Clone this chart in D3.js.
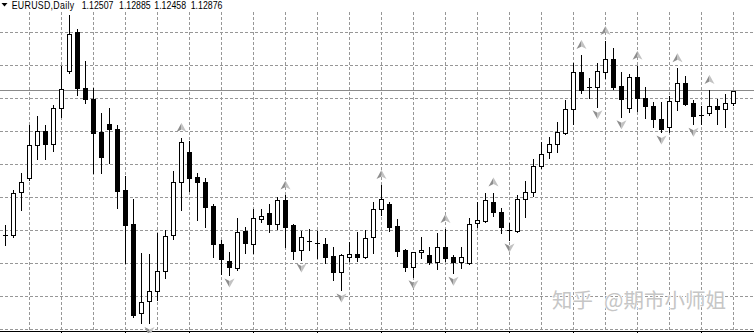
<!DOCTYPE html>
<html><head><meta charset="utf-8">
<script src="https://cdn.jsdelivr.net/npm/d3@7"></script>
<style>html,body{margin:0;padding:0;background:#fff;overflow:hidden}</style>
</head><body><svg id="c" width="754" height="333"></svg>
<script>
const symbol = "EURUSD,Daily";
const opens = [1.08550,1.08550,1.09831,1.10269,1.11250,1.11670,1.11271,1.12351,1.13470,1.14631,
1.12960,1.12621,1.11631,1.11871,1.11721,1.09900,1.08871,1.06201,1.06570,1.06870,
1.07470,1.08550,1.10131,1.11031,1.10299,1.10131,1.09420,1.08271,1.07779,1.07569,
1.08679,1.08271,1.09039,1.09210,1.08871,1.09600,1.08850,1.08100,1.08361,1.08319,
1.08280,1.07920,1.07431,1.07899,1.07980,1.07881,1.08481,1.09321,1.09480,1.08820,
1.08100,1.07599,1.08031,1.07950,1.07731,1.08181,1.07881,1.07731,1.07719,1.08901,
1.08979,1.09549,1.09249,1.08700,1.08679,1.09621,1.09849,1.10620,1.11049,1.11271,
1.11619,1.12321,1.13431,1.12999,1.12981,1.13449,1.13830,1.13020,1.12351,1.13281,
1.12651,1.12420,1.12021,1.11799,1.12579,1.13101,1.12501,1.12150,1.12201,1.12420,
1.12330,1.12507];
const highs = [1.08850,1.09900,1.10419,1.11850,1.12120,1.11850,1.12450,1.13620,1.15150,1.14721,
1.13770,1.12960,1.12201,1.12351,1.11850,1.10320,1.09621,1.08001,1.07971,1.08619,
1.08700,1.10470,1.11460,1.11370,1.10419,1.10269,1.09480,1.08400,1.08049,1.09051,
1.08790,1.09321,1.09321,1.09480,1.09699,1.09735,1.08880,1.08670,1.08730,1.08670,
1.08451,1.08181,1.07980,1.08331,1.08649,1.08700,1.09549,1.10050,1.09531,1.09021,
1.08130,1.08040,1.08481,1.08199,1.08601,1.08730,1.07950,1.08199,1.09051,1.09549,
1.09801,1.09825,1.09351,1.08901,1.09750,1.10170,1.10821,1.11349,1.11499,1.11931,
1.12600,1.13701,1.13950,1.13251,1.13701,1.14370,1.14151,1.13449,1.13371,1.13629,
1.12981,1.12531,1.12531,1.12729,1.13551,1.13329,1.12600,1.12420,1.12900,1.12630,
1.12780,1.12885];
const lows = [1.08250,1.08481,1.09300,1.10200,1.10830,1.10830,1.11079,1.12099,1.13395,1.12750,
1.12510,1.10399,1.10399,1.10719,1.09351,1.07701,1.06099,1.05919,1.05895,1.06600,
1.07251,1.08421,1.09300,1.09870,1.09000,1.08799,1.07899,1.07371,1.07350,1.07500,
1.08019,1.08001,1.08949,1.08649,1.08730,1.08199,1.07821,1.07800,1.08100,1.07851,
1.07701,1.07200,1.06900,1.07779,1.07779,1.07860,1.08019,1.09150,1.08679,1.07920,
1.07479,1.07299,1.07851,1.07671,1.07521,1.07779,1.07401,1.07551,1.07671,1.08781,
1.08949,1.09129,1.08601,1.08400,1.08649,1.09099,1.09720,1.10551,1.10869,1.11049,
1.11571,1.11871,1.12801,1.12669,1.12399,1.13251,1.12921,1.12099,1.12231,1.12270,
1.12051,1.11799,1.11640,1.11649,1.12300,1.12450,1.11871,1.11895,1.12150,1.11871,
1.11799,1.12458];
const closes = [1.08550,1.09801,1.10131,1.11250,1.11670,1.11271,1.12360,1.12921,1.14580,1.12951,
1.12621,1.11601,1.10899,1.11721,1.09879,1.08850,1.06150,1.06531,1.06879,1.07479,
1.08529,1.10131,1.11349,1.10269,1.10131,1.09399,1.08271,1.07821,1.07599,1.08649,
1.08301,1.09051,1.09111,1.08871,1.09600,1.08799,1.08079,1.08481,1.08361,1.08319,
1.07899,1.07431,1.07950,1.07971,1.07881,1.08451,1.09321,1.09621,1.08799,1.08079,
1.07599,1.08031,1.08100,1.07731,1.08181,1.07869,1.07731,1.07881,1.08880,1.08991,
1.09600,1.09249,1.08781,1.08700,1.09621,1.09849,1.10629,1.10971,1.11271,1.11631,
1.12321,1.13431,1.12900,1.12999,1.13470,1.13830,1.12999,1.12621,1.13281,1.12651,
1.12429,1.12021,1.11721,1.12579,1.13101,1.12480,1.12129,1.12150,1.12420,1.12321,
1.12501,1.12876];
const upFractals = [22,35,47,55,61,72,75,79,84,88];
const downFractals = [18,28,37,42,51,56,63,74,77,82,86];
const gridPrices = [1.14628,1.13641,1.12654,1.11667,1.10680,1.09693,1.08706,1.07719,1.06732,1.05745];
const watermarkParts = ["知乎", "@期市小师姐"];

const W = 754, H = 333;
const svg = d3.select("#c");
const n = opens.length;
const x = d3.scaleLinear().domain([0, n - 1]).range([5, 733]);
const y = d3.scaleLinear().domain([1.0561, 1.1560]).range([333, 0]);
const cx = i => Math.round(x(i));
const cy = v => Math.round(y(v));

const gridColor = "#979797";
svg.append("g").selectAll("line").data(gridPrices).join("line")
  .attr("x1", 0).attr("x2", W)
  .attr("y1", d => cy(d) + 0.5).attr("y2", d => cy(d) + 0.5)
  .attr("stroke", gridColor).attr("stroke-dasharray", "3,2").attr("shape-rendering", "crispEdges");
svg.append("g").selectAll("line").data(d3.range(3, n, 4)).join("line")
  .attr("x1", d => cx(d) + 0.5).attr("x2", d => cx(d) + 0.5)
  .attr("y1", 12).attr("y2", 331)
  .attr("stroke", gridColor).attr("stroke-dasharray", "3,2").attr("shape-rendering", "crispEdges");

const last = n - 1;
svg.append("line").attr("x1", 0).attr("x2", W)
  .attr("y1", Math.floor(y(closes[last])) + 0.5).attr("y2", Math.floor(y(closes[last])) + 0.5)
  .attr("stroke", "#8a8a8a").attr("shape-rendering", "crispEdges");

svg.append("line").attr("x1", 0).attr("x2", W).attr("y1", 331.5).attr("y2", 331.5)
  .attr("stroke", "#000").attr("shape-rendering", "crispEdges");
svg.append("g").selectAll("line").data(d3.range(7, n, 8)).join("line")
  .attr("x1", d => cx(d) + 0.5).attr("x2", d => cx(d) + 0.5)
  .attr("y1", 331).attr("y2", 333).attr("stroke", "#000").attr("shape-rendering", "crispEdges");

const idx = d3.range(n);
const cg = svg.append("g").attr("shape-rendering", "crispEdges");
cg.selectAll("line.wick").data(idx).join("line").attr("class", "wick")
  .attr("x1", i => cx(i) + 0.5).attr("x2", i => cx(i) + 0.5)
  .attr("y1", i => cy(highs[i])).attr("y2", i => cy(lows[i]) + 1)
  .attr("stroke", "#000");
cg.selectAll("rect.bear").data(idx.filter(i => closes[i] < opens[i])).join("rect").attr("class", "bear")
  .attr("x", i => cx(i) - 2).attr("width", 5)
  .attr("y", i => cy(opens[i]))
  .attr("height", i => Math.max(1, cy(closes[i]) - cy(opens[i]) + 1))
  .attr("fill", "#000");
cg.selectAll("rect.bull").data(idx.filter(i => closes[i] > opens[i])).join("rect").attr("class", "bull")
  .attr("x", i => cx(i) - 1.5).attr("width", 4)
  .attr("y", i => cy(closes[i]) + 0.5)
  .attr("height", i => Math.max(1, cy(opens[i]) - cy(closes[i])))
  .attr("fill", "#fff").attr("stroke", "#000");
cg.selectAll("line.doji").data(idx.filter(i => closes[i] === opens[i])).join("line").attr("class", "doji")
  .attr("x1", i => cx(i) - 2).attr("x2", i => cx(i) + 3)
  .attr("y1", i => cy(opens[i]) + 0.5).attr("y2", i => cy(opens[i]) + 0.5)
  .attr("stroke", "#000");

const fg = svg.append("g");
function arrow(g, px, py, s) {
  g.append("path").attr("d", `M${px},${py - s * 5} L${px - 5},${py + s * 4} L${px},${py + s * 1.5} Z`)
    .attr("fill", "#8e8e8e");
  g.append("path").attr("d", `M${px},${py - s * 5} L${px + 5},${py + s * 4} L${px},${py + s * 1.5} Z`)
    .attr("fill", "#c2c2c2");
}
upFractals.forEach(i => arrow(fg, cx(i) + 0.5, y(highs[i]) - 10, 1));
downFractals.forEach(i => arrow(fg, cx(i) + 0.5, y(lows[i]) + 7.5, -1));

// header
svg.append("path").attr("d", "M1.5,3 L7.5,3 L4.5,6.5 Z").attr("fill", "#000");
const hf = "'Liberation Sans', Arial, sans-serif";
const hdr = svg.append("g").attr("transform", "translate(0,9) scale(1,1.18)");
hdr.append("text").attr("x", 11.7).attr("y", 0).attr("font-family", hf).attr("font-size", "8.8px")
  .attr("letter-spacing", "0.3px").attr("fill", "#000").text(symbol);
const ohlc = [opens[last], highs[last], lows[last], closes[last]];
const hx = [81.7, 119, 154.3, 190.7];
hdr.selectAll("text.v").data(ohlc).join("text").attr("class", "v")
  .attr("x", (d, k) => hx[k]).attr("y", 0).attr("font-family", hf).attr("font-size", "8.8px")
  .attr("fill", "#000").text(d => d3.format(".5f")(d));

// watermark
const wm = svg.append("text").attr("y", 307.5).attr("font-family", "'Noto Sans CJK SC', sans-serif")
  .attr("font-size", "20.5px").attr("fill", "#c6c6c6")
  .attr("stroke", "#fff").attr("stroke-width", 1.6).attr("paint-order", "stroke").attr("stroke-linejoin", "round");
wm.append("tspan").attr("x", 552).text(watermarkParts[0]);
wm.append("tspan").attr("x", 604).text(watermarkParts[1]);
</script></body></html>
